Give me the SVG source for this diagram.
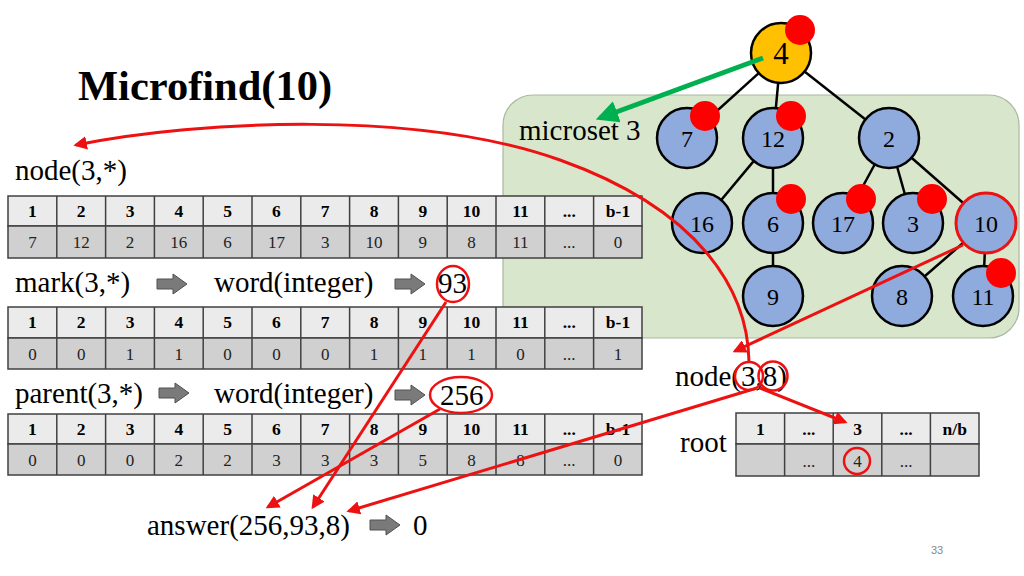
<svg xmlns="http://www.w3.org/2000/svg" width="1024" height="576" viewBox="0 0 1024 576">
<style>
.t{font-family:"Liberation Serif","Times New Roman",serif;fill:#000}
.lbl{font-size:29px}
.h{font-size:17.5px;font-weight:bold;text-anchor:middle}
.v{font-size:17px;text-anchor:middle;fill:#222}
.hr{fill:#ebebeb;stroke:#404040;stroke-width:1.5}
.vr{fill:#d0d0d0;stroke:#404040;stroke-width:1.5}
.cl{stroke:#404040;stroke-width:1.5}
.edge{stroke:#000;stroke-width:2.5}
.nd{fill:#8faadc;stroke:#000;stroke-width:2.5}
.nt{font-size:24px;text-anchor:middle}
.dot{fill:#ff0000}
.rl{fill:none;stroke:#ee1111;stroke-width:3}
.ring{fill:none;stroke:#ee1111;stroke-width:2.5}
.ga{fill:#7a7a7a;stroke:#505050;stroke-width:1}
</style>
<defs>
<marker id="ar" viewBox="0 0 10 10" refX="8" refY="5" markerWidth="4.5" markerHeight="4.5" orient="auto" markerUnits="strokeWidth"><path d="M0,0 L10,5 L0,10 z" fill="#ee1111"/></marker>
<marker id="gr" viewBox="0 0 10 10" refX="8" refY="5" markerWidth="4.5" markerHeight="4.5" orient="auto" markerUnits="strokeWidth"><path d="M0,0 L10,5 L0,10 z" fill="#00b050"/></marker>
<path id="blk" d="M0,-5 H16 V-10 L30,0 L16,10 V5 H0 Z"/>
</defs>
<rect width="1024" height="576" fill="#fff"/>

<!-- green microset box -->
<rect id="microset" x="503" y="95" width="516" height="243" rx="30" fill="#d8e7cc" stroke="#aab8a0" stroke-width="1.2"/>
<text class="t" x="519" y="140" font-size="29">microset 3</text>

<text class="t" x="78" y="100" font-size="42.5" font-weight="bold">Microfind(10)</text>

<!-- labels -->
<g id="labels">
<text class="t lbl" x="15" y="180">node(3,*)</text>
<text class="t lbl" x="15" y="292">mark(3,*)</text>
<use href="#blk" class="ga" x="157" y="284"/>
<text class="t lbl" x="214" y="292">word(integer)</text>
<use href="#blk" class="ga" x="395" y="284"/>
<text class="t lbl" x="438" y="293">93</text>
<text class="t lbl" x="15" y="403">parent(3,*)</text>
<use href="#blk" class="ga" x="159" y="393"/>
<text class="t lbl" x="214" y="403">word(integer)</text>
<use href="#blk" class="ga" x="395" y="395"/>
<text class="t lbl" x="440" y="405">256</text>
<text class="t lbl" x="147" y="535">answer(256,93,8)</text>
<use href="#blk" class="ga" x="370" y="525"/>
<text class="t lbl" x="413" y="535">0</text>
<text class="t lbl" x="675" y="386">node(3,8)</text>
<text class="t lbl" x="680" y="452">root</text>
<text x="931" y="554" font-family="Liberation Sans, sans-serif" font-size="11" fill="#888">33</text>
</g>

<!-- table node(3,*) -->
<g id="table-node">
<rect class="hr" x="8" y="196" width="634" height="30"/>
<rect class="vr" x="8" y="226" width="634" height="32"/>
<g class="cl">
<line x1="56.8" y1="196" x2="56.8" y2="258"/><line x1="105.6" y1="196" x2="105.6" y2="258"/><line x1="154.4" y1="196" x2="154.4" y2="258"/><line x1="203.2" y1="196" x2="203.2" y2="258"/><line x1="252" y1="196" x2="252" y2="258"/><line x1="300.8" y1="196" x2="300.8" y2="258"/><line x1="349.6" y1="196" x2="349.6" y2="258"/><line x1="398.4" y1="196" x2="398.4" y2="258"/><line x1="447.2" y1="196" x2="447.2" y2="258"/><line x1="496" y1="196" x2="496" y2="258"/><line x1="544.8" y1="196" x2="544.8" y2="258"/><line x1="593.6" y1="196" x2="593.6" y2="258"/>
</g>
<g class="t h">
<text x="32.4" y="217">1</text><text x="81.2" y="217">2</text><text x="130" y="217">3</text><text x="178.8" y="217">4</text><text x="227.6" y="217">5</text><text x="276.4" y="217">6</text><text x="325.2" y="217">7</text><text x="374" y="217">8</text><text x="422.8" y="217">9</text><text x="471.6" y="217">10</text><text x="520.4" y="217">11</text><text x="569.2" y="217">...</text><text x="618" y="217">b-1</text>
</g>
<g class="t v">
<text x="32.4" y="248">7</text><text x="81.2" y="248">12</text><text x="130" y="248">2</text><text x="178.8" y="248">16</text><text x="227.6" y="248">6</text><text x="276.4" y="248">17</text><text x="325.2" y="248">3</text><text x="374" y="248">10</text><text x="422.8" y="248">9</text><text x="471.6" y="248">8</text><text x="520.4" y="248">11</text><text x="569.2" y="248">...</text><text x="618" y="248">0</text>
</g>
</g>

<!-- table mark(3,*) -->
<g id="table-mark">
<rect class="hr" x="8" y="307" width="634" height="31"/>
<rect class="vr" x="8" y="338" width="634" height="31"/>
<g class="cl">
<line x1="56.8" y1="307" x2="56.8" y2="369"/><line x1="105.6" y1="307" x2="105.6" y2="369"/><line x1="154.4" y1="307" x2="154.4" y2="369"/><line x1="203.2" y1="307" x2="203.2" y2="369"/><line x1="252" y1="307" x2="252" y2="369"/><line x1="300.8" y1="307" x2="300.8" y2="369"/><line x1="349.6" y1="307" x2="349.6" y2="369"/><line x1="398.4" y1="307" x2="398.4" y2="369"/><line x1="447.2" y1="307" x2="447.2" y2="369"/><line x1="496" y1="307" x2="496" y2="369"/><line x1="544.8" y1="307" x2="544.8" y2="369"/><line x1="593.6" y1="307" x2="593.6" y2="369"/>
</g>
<g class="t h">
<text x="32.4" y="328">1</text><text x="81.2" y="328">2</text><text x="130" y="328">3</text><text x="178.8" y="328">4</text><text x="227.6" y="328">5</text><text x="276.4" y="328">6</text><text x="325.2" y="328">7</text><text x="374" y="328">8</text><text x="422.8" y="328">9</text><text x="471.6" y="328">10</text><text x="520.4" y="328">11</text><text x="569.2" y="328">...</text><text x="618" y="328">b-1</text>
</g>
<g class="t v">
<text x="32.4" y="360">0</text><text x="81.2" y="360">0</text><text x="130" y="360">1</text><text x="178.8" y="360">1</text><text x="227.6" y="360">0</text><text x="276.4" y="360">0</text><text x="325.2" y="360">0</text><text x="374" y="360">1</text><text x="422.8" y="360">1</text><text x="471.6" y="360">1</text><text x="520.4" y="360">0</text><text x="569.2" y="360">...</text><text x="618" y="360">1</text>
</g>
</g>

<!-- table parent(3,*) -->
<g id="table-parent">
<rect class="hr" x="8" y="414" width="634" height="30"/>
<rect class="vr" x="8" y="444" width="634" height="31"/>
<g class="cl">
<line x1="56.8" y1="414" x2="56.8" y2="475"/><line x1="105.6" y1="414" x2="105.6" y2="475"/><line x1="154.4" y1="414" x2="154.4" y2="475"/><line x1="203.2" y1="414" x2="203.2" y2="475"/><line x1="252" y1="414" x2="252" y2="475"/><line x1="300.8" y1="414" x2="300.8" y2="475"/><line x1="349.6" y1="414" x2="349.6" y2="475"/><line x1="398.4" y1="414" x2="398.4" y2="475"/><line x1="447.2" y1="414" x2="447.2" y2="475"/><line x1="496" y1="414" x2="496" y2="475"/><line x1="544.8" y1="414" x2="544.8" y2="475"/><line x1="593.6" y1="414" x2="593.6" y2="475"/>
</g>
<g class="t h">
<text x="32.4" y="435">1</text><text x="81.2" y="435">2</text><text x="130" y="435">3</text><text x="178.8" y="435">4</text><text x="227.6" y="435">5</text><text x="276.4" y="435">6</text><text x="325.2" y="435">7</text><text x="374" y="435">8</text><text x="422.8" y="435">9</text><text x="471.6" y="435">10</text><text x="520.4" y="435">11</text><text x="569.2" y="435">...</text><text x="618" y="435">b-1</text>
</g>
<g class="t v">
<text x="32.4" y="466">0</text><text x="81.2" y="466">0</text><text x="130" y="466">0</text><text x="178.8" y="466">2</text><text x="227.6" y="466">2</text><text x="276.4" y="466">3</text><text x="325.2" y="466">3</text><text x="374" y="466">3</text><text x="422.8" y="466">5</text><text x="471.6" y="466">8</text><text x="520.4" y="466">8</text><text x="569.2" y="466">...</text><text x="618" y="466">0</text>
</g>
</g>

<!-- root table -->
<g id="table-root">
<rect class="hr" x="736" y="413" width="243" height="31"/>
<rect class="vr" x="736" y="444" width="243" height="32"/>
<g class="cl">
<line x1="784.6" y1="413" x2="784.6" y2="476"/><line x1="833.2" y1="413" x2="833.2" y2="476"/><line x1="881.8" y1="413" x2="881.8" y2="476"/><line x1="930.4" y1="413" x2="930.4" y2="476"/>
</g>
<g class="t h">
<text x="760.3" y="435">1</text><text x="808.9" y="435">...</text><text x="857.5" y="435">3</text><text x="906.1" y="435">...</text><text x="954.7" y="435">n/b</text>
</g>
<g class="t v">
<text x="808.9" y="467">...</text><text x="857.5" y="467">4</text><text x="906.1" y="467">...</text>
</g>
</g>

<!-- tree edges -->
<g id="tree-edges" class="edge">
<line x1="781" y1="53" x2="687" y2="138"/>
<line x1="781" y1="53" x2="773" y2="138"/>
<line x1="781" y1="53" x2="889" y2="138"/>
<line x1="773" y1="138" x2="702" y2="223"/>
<line x1="773" y1="138" x2="773" y2="223"/>
<line x1="773" y1="223" x2="773" y2="296"/>
<line x1="889" y1="138" x2="843" y2="223"/>
<line x1="889" y1="138" x2="913" y2="223"/>
<line x1="889" y1="138" x2="986" y2="223"/>
<line x1="986" y1="223" x2="902" y2="296"/>
<line x1="986" y1="223" x2="983" y2="296"/>
</g>

<!-- tree nodes -->
<g id="n4"><circle cx="781" cy="53" r="30" fill="#ffc000" stroke="#000" stroke-width="2.5"/><text class="t" x="781" y="64" font-size="31" text-anchor="middle">4</text><circle class="dot" cx="800" cy="30" r="15"/></g>
<g id="n7"><circle class="nd" cx="687" cy="138" r="30"/><text class="t nt" x="687" y="147">7</text><circle class="dot" cx="705" cy="116" r="15"/></g>
<g id="n12"><circle class="nd" cx="773" cy="138" r="30"/><text class="t nt" x="773" y="147">12</text><circle class="dot" cx="791" cy="116" r="15"/></g>
<g id="n2"><circle class="nd" cx="889" cy="138" r="30"/><text class="t nt" x="889" y="147">2</text></g>
<g id="n16"><circle class="nd" cx="702" cy="223" r="30"/><text class="t nt" x="702" y="232">16</text></g>
<g id="n6"><circle class="nd" cx="773" cy="223" r="30"/><text class="t nt" x="773" y="232">6</text><circle class="dot" cx="791" cy="199" r="15"/></g>
<g id="n17"><circle class="nd" cx="843" cy="223" r="30"/><text class="t nt" x="843" y="232">17</text><circle class="dot" cx="861" cy="199" r="15"/></g>
<g id="n3"><circle class="nd" cx="913" cy="223" r="30"/><text class="t nt" x="913" y="232">3</text><circle class="dot" cx="932" cy="199" r="15"/></g>
<g id="n10"><circle cx="986" cy="223" r="30" fill="#8faadc" stroke="#ee1111" stroke-width="3"/><text class="t nt" x="986" y="232">10</text></g>
<g id="n9"><circle class="nd" cx="773" cy="296" r="30"/><text class="t nt" x="773" y="305">9</text></g>
<g id="n8"><circle class="nd" cx="902" cy="296" r="30"/><text class="t nt" x="902" y="305">8</text></g>
<g id="n11"><circle class="nd" cx="983" cy="296" r="30"/><text class="t nt" x="983" y="305">11</text><circle class="dot" cx="1001" cy="273" r="15"/></g>

<!-- connectors -->
<g id="connectors">
<line x1="763" y1="58" x2="600" y2="118" stroke="#00b050" stroke-width="5" marker-end="url(#gr)"/>
<path class="rl" d="M749,362 C748,290 700,210 560,160 S200,120 76,145" marker-end="url(#ar)"/>
<line class="rl" x1="963" y1="245" x2="735" y2="351" marker-end="url(#ar)"/>
<line class="rl" x1="760" y1="388" x2="845" y2="422" marker-end="url(#ar)"/>
<line class="rl" x1="757" y1="388" x2="349" y2="511" marker-end="url(#ar)"/>
<line class="rl" x1="446" y1="302" x2="313" y2="507" marker-end="url(#ar)"/>
<line class="rl" x1="440" y1="409" x2="268" y2="507" marker-end="url(#ar)"/>
</g>

<!-- highlight rings -->
<g id="rings">
<ellipse class="ring" cx="453" cy="284" rx="16" ry="18"/>
<ellipse class="ring" cx="461" cy="395" rx="31" ry="18"/>
<circle class="ring" cx="749" cy="376" r="14"/>
<circle class="ring" cx="773" cy="376" r="14.5"/>
<circle class="ring" cx="857" cy="461" r="13"/>
</g>
</svg>
